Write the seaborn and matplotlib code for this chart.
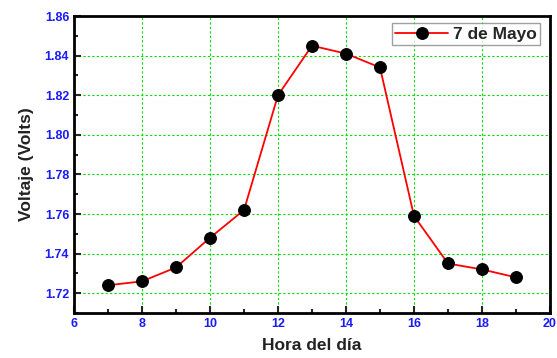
import matplotlib
matplotlib.use("Agg")
import matplotlib.pyplot as plt
import seaborn as sns
import pandas as pd
from matplotlib.ticker import MultipleLocator

hours = [7, 8, 9, 10, 11, 12, 13, 14, 15, 16, 17, 18, 19]
voltage = [1.724, 1.726, 1.733, 1.748, 1.762, 1.820, 1.845, 1.841, 1.834, 1.759, 1.735, 1.732, 1.728]
series_name = "7 de Mayo"
ytick_vals = [1.72, 1.74, 1.76, 1.78, 1.80, 1.82, 1.84, 1.86]

df = pd.DataFrame({"Hora": hours, "Voltaje": voltage, "Serie": series_name})

sns.set_style("ticks")
plt.rcParams["font.family"] = ["Liberation Sans", "DejaVu Sans"]
plt.rcParams["font.weight"] = "bold"

fig = plt.figure(figsize=(5.57, 3.58), dpi=100)
ax = fig.add_axes([0.1329, 0.1257, 0.9874 - 0.1329, 0.9553 - 0.1257])

sns.lineplot(data=df, x="Hora", y="Voltaje", hue="Serie", palette=["red"],
             marker="o", markersize=8.5, markerfacecolor="black", markeredgecolor="black",
             linewidth=1.3, ax=ax)

ax.set_xlim(6, 20)
ax.set_ylim(1.71, 1.86)
ax.xaxis.set_major_locator(MultipleLocator(2))
ax.xaxis.set_minor_locator(MultipleLocator(1))
ax.yaxis.set_minor_locator(MultipleLocator(0.01))
ax.set_yticks(ytick_vals)

ax.grid(True, which="major", color="#00dd00", linestyle=(0, (2, 2)), linewidth=0.8)
ax.set_axisbelow(True)

for s in ax.spines.values():
    s.set_linewidth(2)
    s.set_color("black")
    s.set_visible(True)

ax.tick_params(axis="both", which="major", direction="in", length=5, width=1.5,
               labelsize=9, labelcolor="#1a1aff", top=False, right=False)
ax.tick_params(axis="both", which="minor", direction="in", length=3, width=1.5,
               top=False, right=False)
for lbl in ax.get_xticklabels():
    lbl.set_fontweight("bold")
ax.set_yticklabels([f"{v:.2f}" for v in ytick_vals], fontweight="bold")

ax.set_xlabel("Hora del día", fontsize=12.5, fontweight="bold", color="#222222", labelpad=6)
ax.set_ylabel("Voltaje (Volts)", fontsize=12.5, fontweight="bold", color="#222222", labelpad=8)

leg = ax.legend(loc="upper right", bbox_to_anchor=(0.979, 0.976), borderaxespad=0,
                fancybox=False, frameon=True, prop={"weight": "bold", "size": 12.5},
                handlelength=3, borderpad=0.2, handletextpad=0.3)
leg.get_frame().set_edgecolor("#888888")
leg.get_frame().set_linewidth(1)
leg.set_title(None)

fig.savefig("out.png", dpi=100)
